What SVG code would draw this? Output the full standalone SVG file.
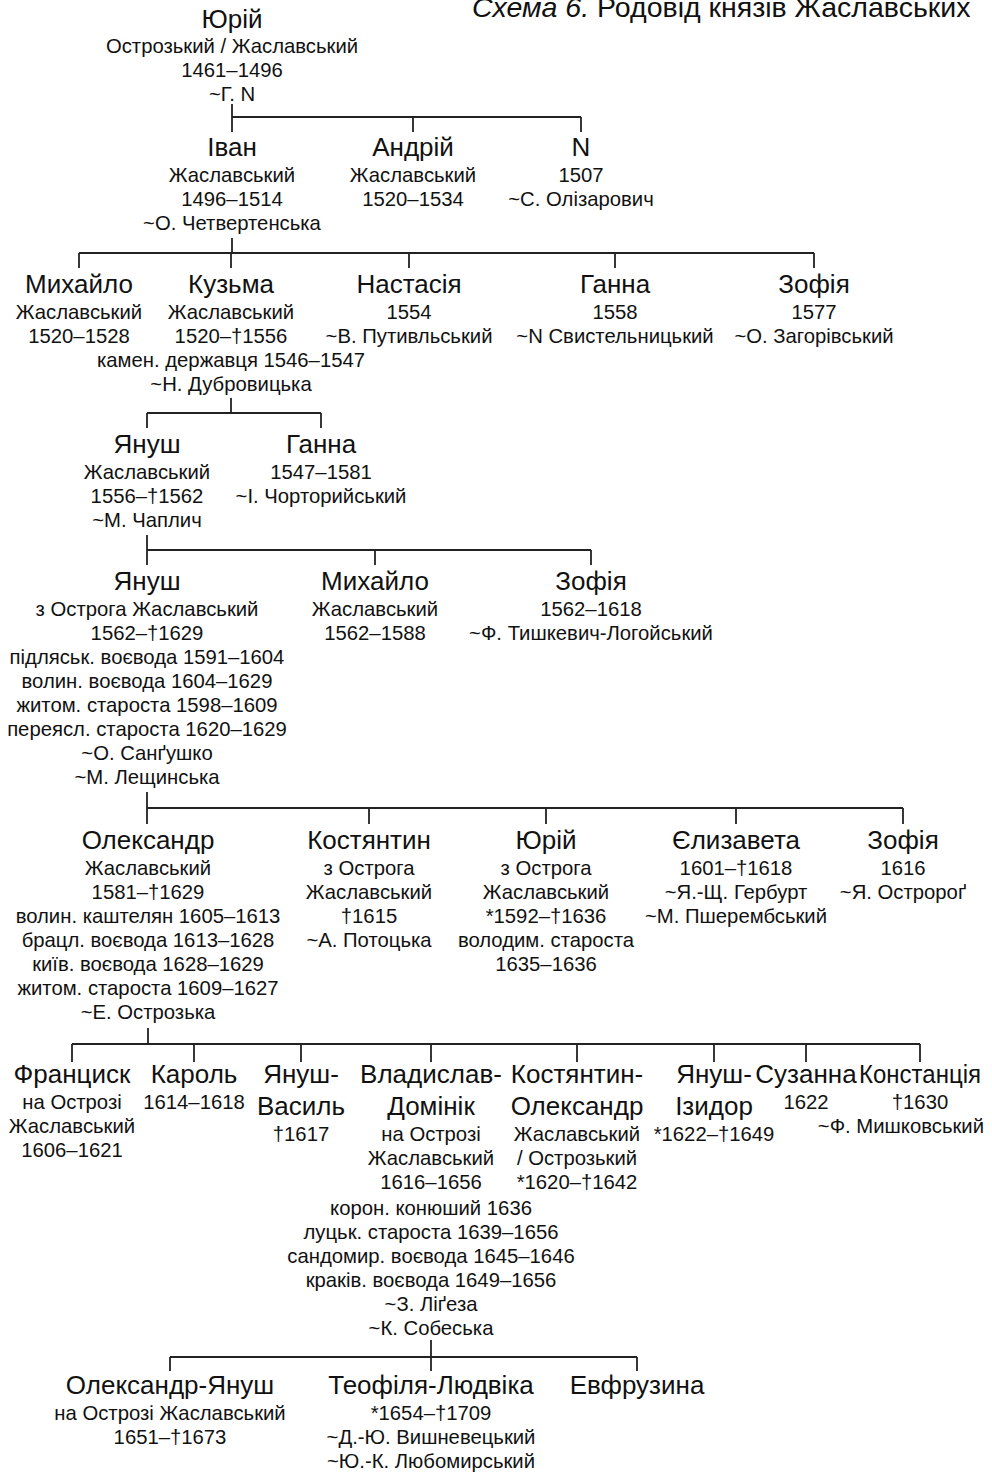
<svg xmlns="http://www.w3.org/2000/svg" width="992" height="1474" viewBox="0 0 992 1474">
<style>
text { font-family: 'Liberation Sans', Arial, sans-serif; fill: #111; text-anchor: middle; }
.nm { font-size: 26px; }
.sb { font-size: 20.3px; }
.tt { font-size: 28.5px; text-anchor: start; }
.ln { stroke: #222; stroke-width: 1.8; fill: none; }
</style>
<rect width="992" height="1474" fill="#fff"/>
<text class="tt" x="472" y="17"><tspan font-style="italic">Схема 6.</tspan> Родовід князів Жаславських</text>

<g id="connectors">
<path class="ln" d="M232,104V117M232,117H581M232,117V132M413,117V132M581,117V132"/>
<path class="ln" d="M232,238V253M79,253H814M79,253V268M231,253V268M409,253V268M615,253V268M814,253V268"/>
<path class="ln" d="M231,398V413M147,413H321M147,413V428M321,413V428"/>
<path class="ln" d="M147,535V550M147,550H591M147,550V565M375,550V565M591,550V565"/>
<path class="ln" d="M147,792V808M147,808H903M147,808V824M369,808V824M546,808V824M736,808V824M903,808V824"/>
<path class="ln" d="M148,1028V1044M72,1044H920M72,1044V1062M194,1044V1062M301,1044V1062M431,1044V1062M577,1044V1062M714,1044V1062M806,1044V1062M920,1044V1062"/>
<path class="ln" d="M431,1340V1357M170,1357H637M170,1357V1371M431,1357V1371M637,1357V1371"/>
</g>

<g id="g0-yurii" transform="translate(232,0)">
<text class="nm" y="28">Юрій</text>
<text class="sb" y="53">Острозький / Жаславський</text>
<text class="sb" y="77">1461–1496</text>
<text class="sb" y="101">~Г. N</text>
</g>

<g id="g1-ivan" transform="translate(232,0)">
<text class="nm" y="156">Іван</text>
<text class="sb" y="182">Жаславський</text>
<text class="sb" y="206">1496–1514</text>
<text class="sb" y="230">~О. Четвертенська</text>
</g>
<g id="g1-andrii" transform="translate(413,0)">
<text class="nm" y="156">Андрій</text>
<text class="sb" y="182">Жаславський</text>
<text class="sb" y="206">1520–1534</text>
</g>
<g id="g1-n" transform="translate(581,0)">
<text class="nm" y="156">N</text>
<text class="sb" y="182">1507</text>
<text class="sb" y="206">~С. Олізарович</text>
</g>

<g id="g2-mykhailo" transform="translate(79,0)">
<text class="nm" y="293">Михайло</text>
<text class="sb" y="319">Жаславський</text>
<text class="sb" y="343">1520–1528</text>
</g>
<g id="g2-kuzma" transform="translate(231,0)">
<text class="nm" y="293">Кузьма</text>
<text class="sb" y="319">Жаславський</text>
<text class="sb" y="343">1520–†1556</text>
<text class="sb" y="367">камен. державця 1546–1547</text>
<text class="sb" y="391">~Н. Дубровицька</text>
</g>
<g id="g2-nastasiia" transform="translate(409,0)">
<text class="nm" y="293">Настасія</text>
<text class="sb" y="319">1554</text>
<text class="sb" y="343">~В. Путивльський</text>
</g>
<g id="g2-hanna" transform="translate(615,0)">
<text class="nm" y="293">Ганна</text>
<text class="sb" y="319">1558</text>
<text class="sb" y="343">~N Свистельницький</text>
</g>
<g id="g2-zofiia" transform="translate(814,0)">
<text class="nm" y="293">Зофія</text>
<text class="sb" y="319">1577</text>
<text class="sb" y="343">~О. Загорівський</text>
</g>

<g id="g3-yanush" transform="translate(147,0)">
<text class="nm" y="453">Януш</text>
<text class="sb" y="479">Жаславський</text>
<text class="sb" y="503">1556–†1562</text>
<text class="sb" y="527">~М. Чаплич</text>
</g>
<g id="g3-hanna" transform="translate(321,0)">
<text class="nm" y="453">Ганна</text>
<text class="sb" y="479">1547–1581</text>
<text class="sb" y="503">~І. Чорторийський</text>
</g>

<g id="g4-yanush" transform="translate(147,0)">
<text class="nm" y="590">Януш</text>
<text class="sb" y="616">з Острога Жаславський</text>
<text class="sb" y="640">1562–†1629</text>
<text class="sb" y="664">підляськ. воєвода 1591–1604</text>
<text class="sb" y="688">волин. воєвода 1604–1629</text>
<text class="sb" y="712">житом. староста 1598–1609</text>
<text class="sb" y="736">переясл. староста 1620–1629</text>
<text class="sb" y="760">~О. Санґушко</text>
<text class="sb" y="784">~М. Лещинська</text>
</g>
<g id="g4-mykhailo" transform="translate(375,0)">
<text class="nm" y="590">Михайло</text>
<text class="sb" y="616">Жаславський</text>
<text class="sb" y="640">1562–1588</text>
</g>
<g id="g4-zofiia" transform="translate(591,0)">
<text class="nm" y="590">Зофія</text>
<text class="sb" y="616">1562–1618</text>
<text class="sb" y="640">~Ф. Тишкевич-Логойський</text>
</g>

<g id="g5-oleksandr" transform="translate(148,0)">
<text class="nm" y="849">Олександр</text>
<text class="sb" y="875">Жаславський</text>
<text class="sb" y="899">1581–†1629</text>
<text class="sb" y="923">волин. каштелян 1605–1613</text>
<text class="sb" y="947">брацл. воєвода 1613–1628</text>
<text class="sb" y="971">київ. воєвода 1628–1629</text>
<text class="sb" y="995">житом. староста 1609–1627</text>
<text class="sb" y="1019">~Е. Острозька</text>
</g>
<g id="g5-kostiantyn" transform="translate(369,0)">
<text class="nm" y="849">Костянтин</text>
<text class="sb" y="875">з Острога</text>
<text class="sb" y="899">Жаславський</text>
<text class="sb" y="923">†1615</text>
<text class="sb" y="947">~А. Потоцька</text>
</g>
<g id="g5-yurii" transform="translate(546,0)">
<text class="nm" y="849">Юрій</text>
<text class="sb" y="875">з Острога</text>
<text class="sb" y="899">Жаславський</text>
<text class="sb" y="923">*1592–†1636</text>
<text class="sb" y="947">володим. староста</text>
<text class="sb" y="971">1635–1636</text>
</g>
<g id="g5-yelyzaveta" transform="translate(736,0)">
<text class="nm" y="849">Єлизавета</text>
<text class="sb" y="875">1601–†1618</text>
<text class="sb" y="899">~Я.-Щ. Гербурт</text>
<text class="sb" y="923">~М. Пшерембський</text>
</g>
<g id="g5-zofiia" transform="translate(903,0)">
<text class="nm" y="849">Зофія</text>
<text class="sb" y="875">1616</text>
<text class="sb" y="899">~Я. Остророґ</text>
</g>

<g id="g6-frantsysk" transform="translate(72,0)">
<text class="nm" y="1083">Франциск</text>
<text class="sb" y="1109">на Острозі</text>
<text class="sb" y="1133">Жаславський</text>
<text class="sb" y="1157">1606–1621</text>
</g>
<g id="g6-karol" transform="translate(194,0)">
<text class="nm" y="1083">Кароль</text>
<text class="sb" y="1109">1614–1618</text>
</g>
<g id="g6-yanush-vasyl" transform="translate(301,0)">
<text class="nm" y="1083">Януш-</text>
<text class="nm" y="1115">Василь</text>
<text class="sb" y="1141">†1617</text>
</g>
<g id="g6-vladyslav" transform="translate(431,0)">
<text class="nm" y="1083">Владислав-</text>
<text class="nm" y="1115">Домінік</text>
<text class="sb" y="1141">на Острозі</text>
<text class="sb" y="1165">Жаславський</text>
<text class="sb" y="1189">1616–1656</text>
<text class="sb" y="1215">корон. конюший 1636</text>
<text class="sb" y="1239">луцьк. староста 1639–1656</text>
<text class="sb" y="1263">сандомир. воєвода 1645–1646</text>
<text class="sb" y="1287">краків. воєвода 1649–1656</text>
<text class="sb" y="1311">~З. Ліґеза</text>
<text class="sb" y="1335">~К. Собеська</text>
</g>
<g id="g6-kostiantyn-oleksandr" transform="translate(577,0)">
<text class="nm" y="1083">Костянтин-</text>
<text class="nm" y="1115">Олександр</text>
<text class="sb" y="1141">Жаславський</text>
<text class="sb" y="1165">/ Острозький</text>
<text class="sb" y="1189">*1620–†1642</text>
</g>
<g id="g6-yanush-izydor" transform="translate(714,0)">
<text class="nm" y="1083">Януш-</text>
<text class="nm" y="1115">Ізидор</text>
<text class="sb" y="1141">*1622–†1649</text>
</g>
<g id="g6-suzanna" transform="translate(806,0)">
<text class="nm" y="1083">Сузанна</text>
<text class="sb" y="1109">1622</text>
</g>
<g id="g6-konstantsiia" transform="translate(920,0)">
<text class="nm" y="1083" textLength="122" lengthAdjust="spacingAndGlyphs">Констанція</text>
<text class="sb" y="1109">†1630</text>
<text class="sb" y="1133" x="64" style="text-anchor:end">~Ф. Мишковський</text>
</g>

<g id="g7-oleksandr-yanush" transform="translate(170,0)">
<text class="nm" y="1394">Олександр-Януш</text>
<text class="sb" y="1420">на Острозі Жаславський</text>
<text class="sb" y="1444">1651–†1673</text>
</g>
<g id="g7-teofilia" transform="translate(431,0)">
<text class="nm" y="1394">Теофіля-Людвіка</text>
<text class="sb" y="1420">*1654–†1709</text>
<text class="sb" y="1444">~Д.-Ю. Вишневецький</text>
<text class="sb" y="1468">~Ю.-К. Любомирський</text>
</g>
<g id="g7-evfruzyna" transform="translate(637,0)">
<text class="nm" y="1394">Евфрузина</text>
</g>
</svg>
